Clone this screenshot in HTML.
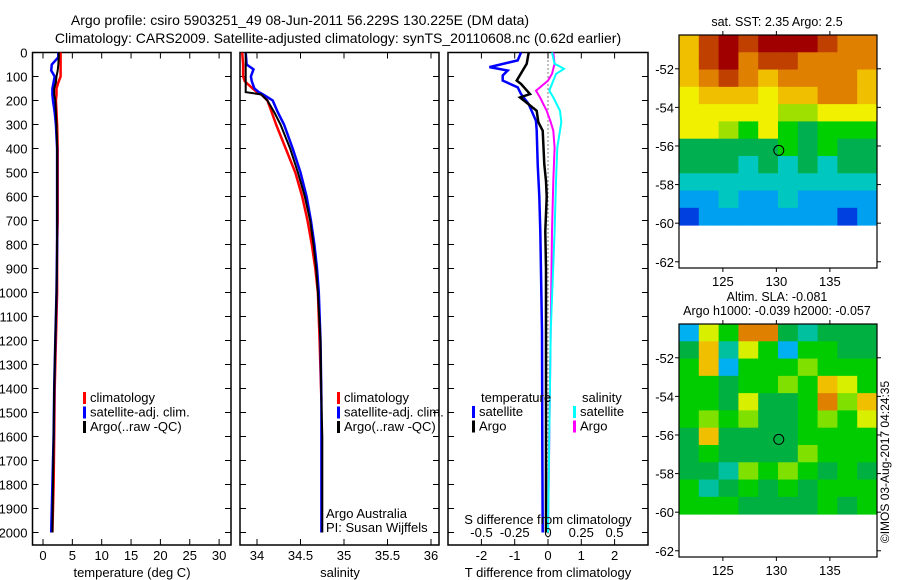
<!DOCTYPE html>
<html><head><meta charset="utf-8">
<style>
html,body{margin:0;padding:0;background:#fff;}
svg{display:block;font-family:"Liberation Sans",sans-serif;}
text{font-size:13px;fill:#000;}
</style></head>
<body>
<svg id="fig" width="900" height="580" viewBox="0 0 900 580">
<text x="300" y="25" text-anchor="middle" style="font-size:14px">Argo profile: csiro 5903251_49 08-Jun-2011 56.229S 130.225E (DM data)</text>
<text x="338" y="43" text-anchor="middle" style="font-size:14px">Climatology: CARS2009. Satellite-adjusted climatology: synTS_20110608.nc (0.62d earlier)</text>
<g id="g1"></g>
<g id="g2"></g>
<g id="g3"></g>
<g id="m1"></g>
<g id="m2"></g>
<text transform="translate(889,462) rotate(-90)" text-anchor="middle" style="font-size:12px">©IMOS 03-Aug-2017 04:24:35</text>
</svg>
<script>
// ---- data ----
const depths=[0,20,50,75,100,125,150,175,200,250,300,400,500,600,700,800,1000,1200,1400,1600,1800,2000];
const climT=[3.0,3.0,3.0,3.0,3.0,2.6,2.3,2.3,2.2,2.3,2.4,2.5,2.5,2.5,2.5,2.4,2.4,2.2,2.0,1.9,1.8,1.6];
const satT=[2.6,2.6,1.5,1.4,2.0,1.8,1.6,1.6,1.7,2.0,2.2,2.4,2.4,2.4,2.4,2.4,2.3,2.1,1.9,1.8,1.6,1.4];
const argoT=[2.7,2.7,2.6,2.5,2.3,2.2,1.9,1.9,2.1,2.2,2.3,2.4,2.4,2.4,2.4,2.4,2.3,2.1,1.9,1.8,1.7,1.6];
const sDepths=[0,50,70,100,120,150,165,175,200,250,300,400,500,600,700,800,900,1000,1200,1450,1600,2000];
const climS=[33.83,33.84,33.84,33.84,33.86,33.95,34.0,34.05,34.12,34.17,34.22,34.33,34.44,34.52,34.58,34.63,34.67,34.70,34.72,34.74,34.74,34.74];
const satS=[33.87,33.88,33.96,33.93,33.94,33.97,34.02,34.07,34.18,34.24,34.31,34.41,34.50,34.57,34.62,34.66,34.69,34.71,34.73,34.74,34.74,34.74];
const argoS=[33.87,33.87,33.87,33.87,33.87,33.87,33.87,34.05,34.12,34.20,34.27,34.38,34.47,34.55,34.61,34.65,34.68,34.70,34.73,34.74,34.75,34.75];
const dDepthsTs=[0,33,61,75,96,117,145,173,215,285,326,466,600,745,1163,1600,2000];
const satTdiff=[-0.81,-0.91,-1.76,-1.21,-1.36,-1.36,-0.91,-0.81,-0.58,-0.36,-0.34,-0.31,-0.26,-0.23,-0.18,-0.17,-0.16];
const dDepthsTa=[0,47,117,131,173,187,243,290,326,466,536,600,745,900,1163,1600,2000];
const argoTdiff=[-0.58,-0.64,-0.94,-0.81,-0.54,-0.84,-0.34,-0.29,-0.16,-0.11,-0.06,-0.04,-0.08,-0.06,-0.06,-0.06,-0.06];
const dDepthsS=[0,47,68,89,117,159,187,243,290,326,396,536,745,1163,2000];
const argoSdiff=[0.04,0.05,0.04,0.03,0.0,-0.09,-0.06,-0.01,0.02,0.04,0.05,0.04,0.03,0.02,0.0];
const satSdiff=[0.03,0.05,0.12,0.06,0.04,0.01,0.04,0.09,0.10,0.09,0.07,0.06,0.05,0.02,0.0];
const depthTicks=[0,100,200,300,400,500,600,700,800,900,1000,1100,1200,1300,1400,1500,1600,1700,1800,1900,2000];
const tTicks=[0,5,10,15,20,25,30];
const sTicks=[34,34.5,35,35.5,36];
const tdTicks=[-2,-1,0,1,2];
const sdTicks=[-0.5,-0.25,0,0.25,0.5];
const sstGrid=[
[7,9,10,9,10,10,10,9,8,8],[7,9,10,8,9,9,8,8,8,8],[7,8,9,8,7,8,8,8,8,7],
[6,7,7,7,6,7,7,8,8,7],[6,6,6,6,6,5,5,6,6,6],[6,6,5,4,6,4,3,4,4,4],
[3,3,3,3,3,4,3,4,3,3],[3,3,3,2,3,2,3,2,3,3],[2,2,2,2,2,2,2,2,2,2],
[1,1,2,1,1,2,1,1,1,1],[0,1,1,1,1,1,1,1,0,1]];
const slaGrid=[
[1,6,4,8,8,3,2,3,3,3],[3,7,2,6,4,1,4,4,3,3],[4,7,1,4,4,4,5,4,4,4],
[4,4,3,4,4,5,4,7,6,4],[4,4,3,6,3,3,4,8,5,7],[4,5,4,5,3,3,4,5,4,6],
[3,7,3,3,3,3,4,4,4,4],[3,4,3,3,3,3,5,4,4,4],[3,3,2,5,4,5,4,3,4,3],
[4,2,3,4,3,4,3,4,4,4],[4,4,4,3,3,3,3,4,3,4]];
const latTicks=[-52,-54,-56,-58,-60,-62];
const lonTicks=[125,130,135];
const argoLon=130.225, argoLat=-56.229;

const NS='http://www.w3.org/2000/svg';
function mk(p,tag,a,name){const e=document.createElementNS(NS,tag);for(const k in a)e.setAttribute(k,a[k]);


p.appendChild(e);return e;}
function txt(p,x,y,s,anchor,name,size){const t=mk(p,'text',{x:x,y:y,'text-anchor':anchor||'start'},name);if(size)t.style.fontSize=size+'px';t.textContent=s;return t;}

const PT=52.5,PB=545;
const yD=d=>PT+d*0.24;
function panel(g,x0,x1,xs,xTicks,xLab,name,depthLabels){
  mk(g,'rect',{x:x0,y:PT,width:x1-x0,height:PB-PT,fill:'none',stroke:'#000','stroke-width':1.5},name+'-frame');
  depthTicks.forEach(d=>{const y=yD(d);
    mk(g,'line',{x1:x0,x2:x0+6,y1:y,y2:y,stroke:'#000'},'depth-tick');
    mk(g,'line',{x1:x1-6,x2:x1,y1:y,y2:y,stroke:'#000'},'depth-tick');
    if(depthLabels)txt(g,x0-5,y+5,String(d),'end','depth-tick-label');});
  xTicks.forEach(v=>{const x=xs(v);
    mk(g,'line',{x1:x,x2:x,y1:PB-6,y2:PB,stroke:'#000'},'x-tick');
    mk(g,'line',{x1:x,x2:x,y1:PT,y2:PT+6,stroke:'#000'},'x-tick');});
}
function line(g,xs,vals,ds,col,name,w){
  const pts=vals.map((v,i)=>xs(v).toFixed(1)+','+yD(ds[i]).toFixed(1)).join(' ');
  mk(g,'polyline',{points:pts,fill:'none',stroke:col,'stroke-width':w||2.5},name);
}
function legend(g,x,y,items){items.forEach((it,i)=>{
  mk(g,'rect',{x:x,y:y+i*14.5-10,width:3,height:12,fill:it[0]},'legend-swatch');
  txt(g,x+7,y+i*14.5,it[1],'start','legend-entry');});}

// panel 1
const g1=document.getElementById('g1');
const xT=v=>43+v*5.87;
panel(g1,32.5,231,xT,tTicks,'','temperature-panel',true);
line(g1,xT,climT,depths,'#ff0000','clim-temperature-line');
line(g1,xT,satT,depths,'#0000ff','satellite-temperature-line');
line(g1,xT,argoT,depths,'#000000','argo-temperature-line',2);
tTicks.forEach(v=>txt(g1,xT(v),560,String(v),'middle','temperature-tick-label'));
txt(g1,132,577,'temperature (deg C)','middle','temperature-axis-title');
legend(g1,83,402,[['#ff0000','climatology'],['#0000ff','satellite-adj. clim.'],['#000','Argo(..raw -QC)']]);

// panel 2
const g2=document.getElementById('g2');
const xS=v=>257+(v-34)*87;
panel(g2,240,439,xS,sTicks,'','salinity-panel',false);
line(g2,xS,climS.slice(0,20),sDepths.slice(0,20),'#ff0000','clim-salinity-line');
line(g2,xS,satS,sDepths,'#0000ff','satellite-salinity-line');
line(g2,xS,argoS,sDepths,'#000000','argo-salinity-line',2);
sTicks.forEach(v=>txt(g2,xS(v),560,String(v),'middle','salinity-tick-label'));
txt(g2,340,577,'salinity','middle','salinity-axis-title');
legend(g2,337,402,[['#ff0000','climatology'],['#0000ff','satellite-adj. clim.'],['#000','Argo(..raw -QC)']]);
txt(g2,326,518,'Argo Australia','start','credit-argo-australia');
txt(g2,326,532,'PI: Susan Wijffels','start','credit-pi');

// panel 3
const g3=document.getElementById('g3');
const xTD=v=>548+v*33.3;
const xSD=v=>548+v*133;
panel(g3,448,648,xTD,tdTicks,'','difference-panel',false);
mk(g3,'line',{x1:548,x2:548,y1:PT,y2:PB,stroke:'#000','stroke-dasharray':'1,3'},'zero-line');
line(g3,xTD,satTdiff,dDepthsTs,'#0000ff','satellite-tdiff-line');
line(g3,xTD,argoTdiff,dDepthsTa,'#000000','argo-tdiff-line');
line(g3,xSD,argoSdiff,dDepthsS,'#ff00ff','argo-sdiff-line',2);
line(g3,xSD,satSdiff,dDepthsS,'#00ffff','satellite-sdiff-line',2);
tdTicks.forEach(v=>txt(g3,xTD(v),560,String(v),'middle','tdiff-tick-label'));
sdTicks.forEach(v=>txt(g3,xSD(v),537,String(v),'middle','sdiff-tick-label'));
txt(g3,548,524,'S difference from climatology','middle','sdiff-axis-title');
txt(g3,548,577,'T difference from climatology','middle','tdiff-axis-title');
txt(g3,481,402,'temperature','start','legend-title-temperature');
txt(g3,582,402,'salinity','start','legend-title-salinity');
legend(g3,472,416,[['#0000ff','satellite'],['#000','Argo']]);
legend(g3,573,416,[['#00ffff','satellite'],['#ff00ff','Argo']]);

// maps
const pal=['#0040e0','#00a0f0','#00c8c0','#00b050','#00d000','#a0e000','#f0f000','#f0c000','#e08000','#c04000','#a00000'];
const slaPal=['#0060f0','#00b0f0','#00c0a0','#00b040','#00cc00','#80e000','#d8f000','#f0c000','#e08000'];
function map(g,top,grid,palette,titles){
  const L=679,R=877,B=top+233;
  const lon=v=>L+(v-120.9)*10.7;
  const lat=v=>top+(-50.25-v)*19.3;
  const bot=lat(-60.1),cw=(R-L)/grid[0].length,rh=(bot-top)/grid.length;
  grid.forEach((row,i)=>row.forEach((c,j)=>mk(g,'rect',{x:L+j*cw,y:top+i*rh,width:cw+0.5,height:rh+0.5,fill:palette[c]},'map-cell')));
  mk(g,'rect',{x:L,y:top,width:R-L,height:B-top,fill:'none',stroke:'#000','stroke-width':1.2},'map-frame');
  latTicks.forEach(v=>{const y=lat(v);
    mk(g,'line',{x1:L-4,x2:L,y1:y,y2:y,stroke:'#000'},'lat-tick');
    mk(g,'line',{x1:R,x2:R+4,y1:y,y2:y,stroke:'#000'},'lat-tick');
    txt(g,L-5,y+5,String(v),'end','lat-tick-label');});
  lonTicks.forEach(v=>{const x=lon(v);
    mk(g,'line',{x1:x,x2:x,y1:top-4,y2:top,stroke:'#000'},'lon-tick');
    mk(g,'line',{x1:x,x2:x,y1:B,y2:B+4,stroke:'#000'},'lon-tick');
    txt(g,x,B+18,String(v),'middle','lon-tick-label');});
  mk(g,'circle',{cx:lon(argoLon),cy:lat(argoLat),r:5,fill:'none',stroke:'#000'},'argo-location-marker');
  titles.forEach((t,i)=>txt(g,777,top-(titles.length-i)*14+5,t,'middle','map-title',12.5));
}
map(document.getElementById('m1'),35,sstGrid,pal,['sat. SST: 2.35 Argo: 2.5']);
map(document.getElementById('m2'),324,slaGrid,slaPal,['Altim. SLA: -0.081','Argo h1000: -0.039 h2000: -0.057']);
</script>
</body></html>
